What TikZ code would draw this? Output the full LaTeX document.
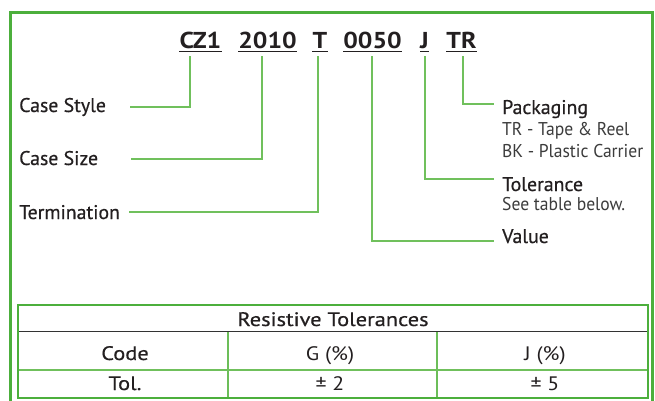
\documentclass[tikz,border=0pt]{standalone}
\usepackage{fontspec}
\setmainfont{PT Sans}
\newfontfamily\codefont[FakeStretch=1.12]{PT Sans}
\newfontfamily\labfont[FakeBold=0.5]{PT Sans}
\newfontfamily\lightfont[FakeStretch=0.95]{PT Sans}
\newfontfamily\cellfont[FakeBold=0.5,FakeStretch=1.15]{PT Sans}
\newfontfamily\celllight[FakeStretch=1.12]{PT Sans}
\definecolor{frameg}{RGB}{76,175,60}
\definecolor{connG}{RGB}{112,192,92}
\definecolor{ink}{RGB}{35,31,32}
\definecolor{lightink}{RGB}{60,60,60}
\tikzset{
  codetxt/.style={anchor=base,inner xsep=0pt,inner ysep=0pt,text=ink,font=\codefont\bfseries\fontsize{23}{27}\selectfont},
  lab/.style={anchor=base west,inner sep=0pt,text=ink,font=\labfont\fontsize{19.8}{23}\selectfont},
  lighttxt/.style={anchor=base west,inner sep=0pt,text=lightink,font=\lightfont\fontsize{18.5}{22}\selectfont},
  conn/.style={draw=connG,line width=1.3pt},
  uline/.style={draw=ink,line width=1.4pt},
  cell/.style={anchor=base,inner sep=0pt,text=ink,font=\cellfont\fontsize{19.5}{23}\selectfont},
  celll/.style={anchor=base,inner sep=0pt,text=ink,font=\celllight\fontsize{19.5}{23}\selectfont},
}
\begin{document}
\begin{tikzpicture}[x=1pt,y=-1pt]
\clip (0,0) rectangle (655,400);
\fill[white] (0,0) rectangle (655,400);
% outer frame
\draw[frameg,line width=2.5pt] (10.5,12.5) rectangle (652.5,420);
% code
\node[codetxt] (c1) at (200.5,48) {CZ1};
\node[codetxt] (c2) at (267.5,48) {2010};
\node[codetxt] (c3) at (320,48) {T};
\node[codetxt] (c4) at (372.5,48) {0050};
\node[codetxt] (c5) at (424.5,48) {J};
\node[codetxt] (c6) at (461.5,48) {TR};
\foreach \n in {c1,c2,c3,c4,c5,c6}{
  \draw[uline] ([yshift=-3.5pt]\n.base west) -- ([yshift=-3.5pt]\n.base east);
}
% labels
\node[lab] (cs) at (19,112) {Case Style};
\node[lab] (cz) at (19,165) {Case Size};
\node[lab] (tm) at (19,219) {Termination};
\node[lab] (pk) at (502,114) {Packaging};
\node[lighttxt] (pk1) at (502,135) {TR - Tape \& Reel};
\node[lighttxt] (pk2) at (502,157) {BK - Plastic Carrier};
\node[lab] (tl) at (502,191) {Tolerance};
\node[lighttxt] (tl1) at (502,210) {See table below.};
\node[lab] (vl) at (502,243) {Value};
% connector coordinates
\coordinate (t1) at (190,56);  \coordinate (e1) at (130,107);
\coordinate (t2) at (262,56);  \coordinate (e2) at (131,159);
\coordinate (t3) at (318,56);  \coordinate (e3) at (129,212);
\coordinate (t4) at (372,56);  \coordinate (e4) at (494,241);
\coordinate (t5) at (425,56);  \coordinate (e5) at (494,179);
\coordinate (t6) at (463,56);  \coordinate (e6) at (494,104);
\draw[conn] (t1) |- (e1);
\draw[conn] (t2) |- (e2);
\draw[conn] (t3) |- (e3);
\draw[conn] (t4) |- (e4);
\draw[conn] (t5) |- (e5);
\draw[conn] (t6) |- (e6);
% table
\coordinate (tbA) at (18,305);
\coordinate (tbB) at (648,398);
\draw[connG!90!frameg,line width=1.5pt] (228,332) -- (228,398);
\draw[connG!90!frameg,line width=1.5pt] (437,332) -- (437,398);
\draw[connG,line width=1.3pt] (18,370) -- (648,370);
\draw[black!80,line width=1.2pt] (18,331.5) -- (648,331.5);
\draw[frameg,line width=2.5pt] (tbA) rectangle (tbB);
\node[cell] (th) at (333,326) {Resistive Tolerances};
\node[cell] (h1) at (125,360) {Code};
\node[celll] (h2) at (330,360) {G (\%)};
\node[celll] (h3) at (545,360) {J (\%)};
\node[cell] (r1) at (125,390) {Tol.};
\node[celll] (r2) at (330,390) {± 2};
\node[celll] (r3) at (545,390) {± 5};
\end{tikzpicture}
\end{document}
